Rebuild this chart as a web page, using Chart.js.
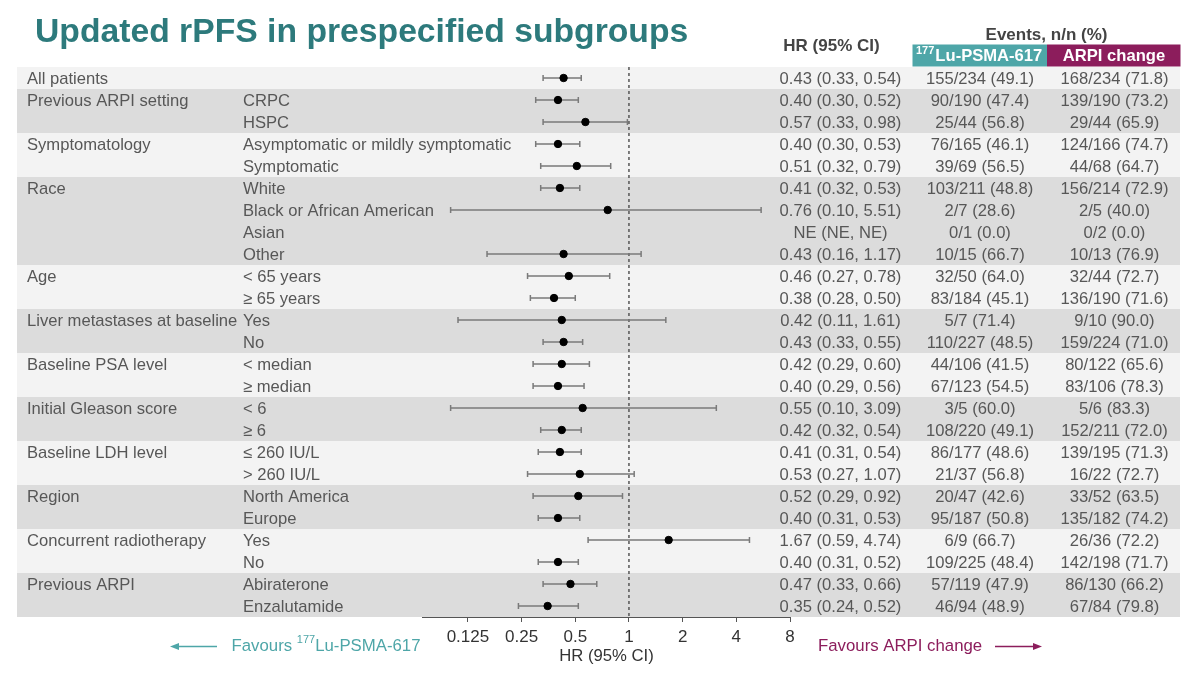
<!DOCTYPE html>
<html>
<head>
<meta charset="utf-8">
<script src="https://cdn.jsdelivr.net/npm/chart.js@4.4.1/dist/chart.umd.min.js"></script>
<style>
  html, body { margin: 0; padding: 0; background: #fff; }
  #wrap { width: 1200px; height: 673px; position: relative; }
</style>
</head>
<body>
<div id="wrap"><canvas id="forest" width="1200" height="673"></canvas></div>
<script>
// rows of the forest plot, top to bottom
var groups = ['All patients', 'Previous ARPI setting', '', 'Symptomatology', '', 'Race', '', '', '',
  'Age', '', 'Liver metastases at baseline', '', 'Baseline PSA level', '', 'Initial Gleason score', '',
  'Baseline LDH level', '', 'Region', '', 'Concurrent radiotherapy', '', 'Previous ARPI', ''];
var subgroups = ['', 'CRPC', 'HSPC', 'Asymptomatic or mildly symptomatic', 'Symptomatic', 'White',
  'Black or African American', 'Asian', 'Other', '< 65 years', '\u2265 65 years', 'Yes', 'No',
  '< median', '\u2265 median', '< 6', '\u2265 6', '\u2264 260 IU/L', '> 260 IU/L', 'North America',
  'Europe', 'Yes', 'No', 'Abiraterone', 'Enzalutamide'];
var hr    = [0.43, 0.40, 0.57, 0.40, 0.51, 0.41, 0.76, null, 0.43, 0.46, 0.38, 0.42, 0.43, 0.42, 0.40, 0.55, 0.42, 0.41, 0.53, 0.52, 0.40, 1.67, 0.40, 0.47, 0.35];
var lower = [0.33, 0.30, 0.33, 0.30, 0.32, 0.32, 0.10, null, 0.16, 0.27, 0.28, 0.11, 0.33, 0.29, 0.29, 0.10, 0.32, 0.31, 0.27, 0.29, 0.31, 0.59, 0.31, 0.33, 0.24];
var upper = [0.54, 0.52, 0.98, 0.53, 0.79, 0.53, 5.51, null, 1.17, 0.78, 0.50, 1.61, 0.55, 0.60, 0.56, 3.09, 0.54, 0.54, 1.07, 0.92, 0.53, 4.74, 0.52, 0.66, 0.52];
var luEvents = ['155/234 (49.1)', '90/190 (47.4)', '25/44 (56.8)', '76/165 (46.1)', '39/69 (56.5)',
  '103/211 (48.8)', '2/7 (28.6)', '0/1 (0.0)', '10/15 (66.7)', '32/50 (64.0)', '83/184 (45.1)',
  '5/7 (71.4)', '110/227 (48.5)', '44/106 (41.5)', '67/123 (54.5)', '3/5 (60.0)', '108/220 (49.1)',
  '86/177 (48.6)', '21/37 (56.8)', '20/47 (42.6)', '95/187 (50.8)', '6/9 (66.7)', '109/225 (48.4)',
  '57/119 (47.9)', '46/94 (48.9)'];
var arpiEvents = ['168/234 (71.8)', '139/190 (73.2)', '29/44 (65.9)', '124/166 (74.7)', '44/68 (64.7)',
  '156/214 (72.9)', '2/5 (40.0)', '0/2 (0.0)', '10/13 (76.9)', '32/44 (72.7)', '136/190 (71.6)',
  '9/10 (90.0)', '159/224 (71.0)', '80/122 (65.6)', '83/106 (78.3)', '5/6 (83.3)', '152/211 (72.0)',
  '139/195 (71.3)', '16/22 (72.7)', '33/52 (63.5)', '135/182 (74.2)', '26/36 (72.2)', '142/198 (71.7)',
  '86/130 (66.2)', '67/84 (79.8)'];
var tickValues = [0.125, 0.25, 0.5, 1, 2, 4, 8];
var tickLabels = ['0.125', '0.25', '0.5', '1', '2', '4', '8'];

var FONT = '"Liberation Sans", Arial, sans-serif';
var TEAL = '#4ea6a8', PURPLE = '#8c1d5c', TXT = '#575757';

function hrText(i) {
  if (hr[i] == null) return 'NE (NE, NE)';
  return hr[i].toFixed(2) + ' (' + lower[i].toFixed(2) + ', ' + upper[i].toFixed(2) + ')';
}

// band shade per row: alternate by group
var shade = [], g = -1;
for (var i = 0; i < groups.length; i++) {
  if (groups[i] !== '' || i === 0) g++;
  shade.push(g % 2 === 1);
}

var points = [];
hr.forEach(function (v, i) { if (v != null) points.push({ x: v, y: i }); });

var forestPlugin = {
  id: 'forest',
  beforeDatasetsDraw: function (chart) {
    var c = chart.ctx, xs = chart.scales.x, ys = chart.scales.y, a = chart.chartArea;
    c.save();
    // row bands
    for (var i = 0; i < groups.length; i++) {
      var top = ys.getPixelForValue(i - 0.5), bot = ys.getPixelForValue(i + 0.5);
      c.fillStyle = shade[i] ? '#dcdcdc' : '#f3f3f3';
      c.fillRect(17, top, 1163, bot - top);
    }
    // line of no effect
    var x1 = xs.getPixelForValue(1);
    c.strokeStyle = '#555';
    c.lineWidth = 1.5;
    c.setLineDash([3, 3]);
    c.beginPath();
    c.moveTo(x1, a.top);
    c.lineTo(x1, a.bottom);
    c.stroke();
    c.setLineDash([]);
    // confidence intervals
    c.strokeStyle = '#7a7a7a';
    c.lineWidth = 1.5;
    for (var j = 0; j < hr.length; j++) {
      if (hr[j] == null) continue;
      var y = ys.getPixelForValue(j);
      var l = xs.getPixelForValue(lower[j]), r = xs.getPixelForValue(upper[j]);
      c.beginPath();
      c.moveTo(l, y); c.lineTo(r, y);
      c.moveTo(l, y - 3); c.lineTo(l, y + 3);
      c.moveTo(r, y - 3); c.lineTo(r, y + 3);
      c.stroke();
    }
    // row texts
    c.font = '16.6px ' + FONT;
    c.fillStyle = TXT;
    c.textBaseline = 'middle';
    for (var k = 0; k < groups.length; k++) {
      var yy = ys.getPixelForValue(k) + 1;
      c.textAlign = 'left';
      c.fillText(groups[k], 27, yy);
      c.fillText(subgroups[k], 243, yy);
      c.textAlign = 'center';
      c.fillText(hrText(k), 840.5, yy);
      c.fillText(luEvents[k], 980, yy);
      c.fillText(arpiEvents[k], 1114.5, yy);
    }
    c.restore();
  },
  afterDraw: function (chart) {
    var c = chart.ctx;
    c.save();
    // title
    c.fillStyle = '#2d7a7c';
    c.font = 'bold 33.7px ' + FONT;
    c.textAlign = 'left';
    c.textBaseline = 'alphabetic';
    c.fillText('Updated rPFS in prespecified subgroups', 35, 42);
    c.textBaseline = 'middle';
    // headers
    c.fillStyle = '#444';
    c.font = 'bold 17px ' + FONT;
    c.textAlign = 'center';
    c.fillText('HR (95% CI)', 831.5, 46);
    c.fillText('Events, n/n (%)', 1046.5, 35);
    c.fillStyle = TEAL;
    c.fillRect(912.5, 44.5, 134.5, 22);
    c.fillStyle = PURPLE;
    c.fillRect(1047, 44.5, 133.5, 22);
    c.fillStyle = '#fff';
    c.font = 'bold 16.6px ' + FONT;
    c.fillText('ARPI change', 1114, 56);
    c.textAlign = 'left';
    c.font = 'bold 11px ' + FONT;
    c.fillText('177', 916, 51);
    var ws = c.measureText('177').width;
    c.font = 'bold 16.6px ' + FONT;
    c.fillText('Lu-PSMA-617', 916 + ws + 1, 56);
    // footer: favours labels with arrows
    c.font = '16.8px ' + FONT;
    c.fillStyle = TEAL;
    c.strokeStyle = TEAL;
    c.lineWidth = 1.5;
    c.beginPath(); c.moveTo(176, 646.5); c.lineTo(217, 646.5); c.stroke();
    c.beginPath(); c.moveTo(170, 646.5); c.lineTo(179, 643); c.lineTo(179, 650); c.closePath(); c.fill();
    c.fillText('Favours ', 231.5, 646);
    var w = c.measureText('Favours ').width;
    c.font = '11px ' + FONT;
    c.fillText('177', 231.5 + w, 640);
    var w2 = c.measureText('177').width;
    c.font = '16.8px ' + FONT;
    c.fillText('Lu-PSMA-617', 231.5 + w + w2, 646);
    c.fillStyle = PURPLE;
    c.strokeStyle = PURPLE;
    c.fillText('Favours ARPI change', 818, 646);
    c.beginPath(); c.moveTo(995, 646.5); c.lineTo(1033, 646.5); c.stroke();
    c.beginPath(); c.moveTo(1042, 646.5); c.lineTo(1033, 643); c.lineTo(1033, 650); c.closePath(); c.fill();
    c.restore();
  }
};

new Chart(document.getElementById('forest'), {
  type: 'scatter',
  data: {
    datasets: [{
      data: points,
      backgroundColor: '#000',
      borderColor: '#000',
      pointRadius: 3.7,
      pointHoverRadius: 3.7
    }]
  },
  options: {
    responsive: false,
    animation: false,
    events: [],
    layout: { padding: { left: 423, right: 410, top: 67, bottom: 0 } },
    plugins: { legend: { display: false }, tooltip: { enabled: false } },
    scales: {
      x: {
        type: 'logarithmic',
        min: 0.07,
        max: 8,
        afterBuildTicks: function (s) { s.ticks = tickValues.map(function (v) { return { value: v }; }); },
        afterFit: function (s) { s.height = 56; },
        ticks: {
          color: '#333',
          font: { family: FONT, size: 17 },
          padding: 5,
          maxRotation: 0,
          autoSkip: false,
          callback: function (v) { var i = tickValues.indexOf(v); return i >= 0 ? tickLabels[i] : ''; }
        },
        grid: { drawOnChartArea: false, drawTicks: true, tickLength: 5, color: '#555' },
        border: { display: true, color: '#555', width: 2 },
        title: { display: true, text: 'HR (95% CI)', color: '#333', font: { family: FONT, size: 16.7 }, padding: { top: 0, bottom: 7 } }
      },
      y: {
        type: 'linear',
        display: false,
        reverse: true,
        min: -0.5,
        max: 24.5
      }
    }
  },
  plugins: [forestPlugin]
});
</script>
</body>
</html>
